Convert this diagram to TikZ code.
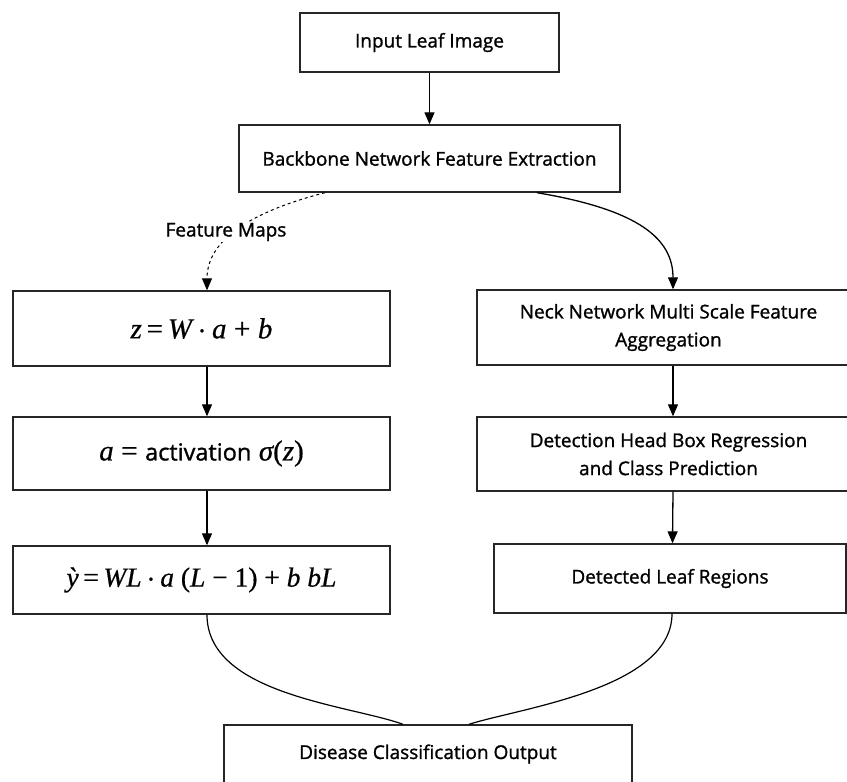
\documentclass[tikz,border=0pt]{standalone}
\usepackage{fontspec}
\setmainfont{Open Sans}[UprightFeatures={FakeBold=1.2}]
\newfontfamily\mfont{Liberation Serif}[ItalicFeatures={FakeBold=0.6},UprightFeatures={FakeBold=0.6}]
\usetikzlibrary{arrows.meta}
\newcommand{\mi}[1]{{\mfont\itshape #1}}
\newcommand{\mr}[1]{{\mfont #1}}
\newcommand{\mdot}{\raisebox{0.1em}{\mfont\fontsize{14}{14}\selectfont •}}
\begin{document}
\begin{tikzpicture}[x=1pt,y=-1pt,
  box/.style={draw=black!85,line width=1.4pt,fill=white,align=center,inner sep=0pt,
    font=\fontsize{19}{28}\selectfont},
  mbox/.style={box,font=\fontsize{29}{30}\selectfont},
  arr/.style={line width=1.3pt,-{Triangle[length=12pt,width=10pt]}},
  con/.style={line width=1.2pt}]
\useasboundingbox (0,0) rectangle (847,782);
\clip (0,0) rectangle (847,782);
\node[box,minimum width=259pt,minimum height=59pt] (inp) at (429.5,42.5) {Input Leaf Image};
\node[box,minimum width=381pt,minimum height=67pt] (bb) at (429.5,158.5) {Backbone Network Feature Extraction};
\node[mbox,minimum width=377pt,minimum height=75pt] (l1) at (201.5,328.5) {\mi{z}\,\mr{=}\,\mi{W} \mdot{} \mi{a} \mr{+} \mi{b}};
\node[mbox,minimum width=377pt,minimum height=73pt] (l2) at (201.5,453.5) {\mi{a} \mr{=} {\fontsize{23.5}{28}\selectfont activation} \mi{σ}\mr{(}\mi{z}\mr{)}};
\node[mbox,minimum width=377pt,minimum height=68pt,font=\fontsize{27.5}{30}\mfont] (l3) at (201.5,580) {\mi{ỳ}\,=\,\mi{WL} \mdot{} \mi{a} (\mi{L} − 1) + \mi{b} \mi{bL}};
\node[box,minimum width=383pt,minimum height=75pt] (r1) at (668.5,327.5) {Neck Network Multi Scale Feature\\Aggregation};
\node[box,minimum width=383pt,minimum height=74pt] (r2) at (668.5,454) {Detection Head Box Regression\\and Class Prediction};
\node[box,minimum width=352pt,minimum height=69pt] (r3) at (670,578.5) {Detected Leaf Regions};
\node[box,minimum width=408pt,minimum height=58pt] (out) at (428,754) {Disease Classification Output};
\draw[arr] (inp) -- (bb);
\draw[arr] ([xshift=5.5pt]l1.south) -- ([xshift=5.5pt]l2.north);
\draw[arr] ([xshift=5.5pt]l2.south) -- ([xshift=5.5pt]l3.north);
\draw[arr] ([xshift=4.5pt]r1.south) -- ([xshift=4.5pt]r2.north);
\draw[arr] ([xshift=4.5pt]r2.south) -- ([xshift=2.5pt]r3.north);
\draw[arr,dashed,line width=1pt] ([xshift=-104.5pt]bb.south) .. controls (250,212) and ([xshift=5.5pt,yshift=50pt]l1.north) .. ([xshift=5.5pt]l1.north);
\node[fill=white,inner sep=1pt,font=\fontsize{19}{20}\selectfont] (fm) at (226,232) {Feature Maps};
\draw[arr] ([xshift=107.5pt]bb.south) .. controls (640,210) and ([xshift=4.5pt,yshift=50pt]r1.north) .. ([xshift=4.5pt]r1.north);
\draw[con] ([xshift=5.5pt]l3.south) .. controls ([xshift=5.5pt,yshift=-80pt]l3.south) and (350,705) .. ([xshift=-25pt]out.north);
\draw[con] ([xshift=2pt]r3.south) .. controls ([xshift=2pt,yshift=-75pt]r3.south) and (520,708) .. ([xshift=41pt]out.north);
\end{tikzpicture}
\end{document}
